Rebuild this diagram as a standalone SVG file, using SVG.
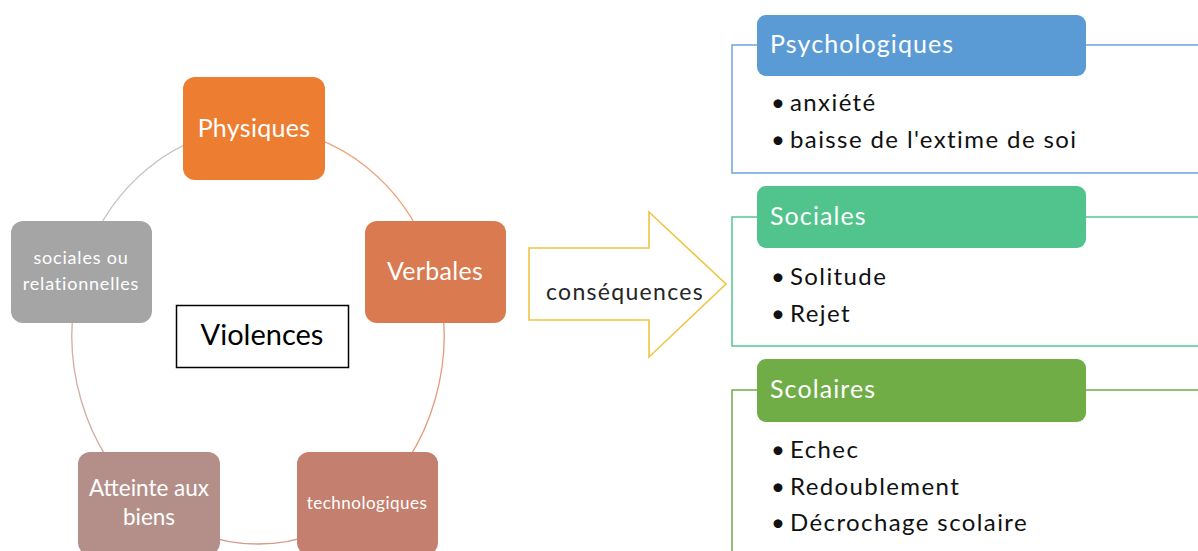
<svg xmlns="http://www.w3.org/2000/svg" width="1198" height="551" viewBox="0 0 1198 551">
<style>
  .node text { font-family: Lato, "Liberation Sans", sans-serif; fill: #ffffff; text-anchor: middle; }
  .arc { fill: none; stroke-width: 1.3; }
  .hdr { font-family: Lato, "Liberation Sans", sans-serif; fill: #ffffff; font-size: 25px; letter-spacing: 1.1px; }
  .bul { font-family: Lato, "Liberation Sans", sans-serif; fill: #111111; font-size: 24px; letter-spacing: 1.4px; }
  .dot { font-family: Lato, "Liberation Sans", sans-serif; fill: #111111; font-size: 24px; }
  .brk { fill: none; stroke-width: 1.5; }
</style>
<rect width="1198" height="551" fill="#ffffff"/>
<g id="connectors">
  <path class="arc" stroke="#F0A278" d="M258,128 A186,208 0 0 1 434.9,271.7"/>
  <path class="arc" stroke="#E39B78" d="M434.9,271.7 A186,208 0 0 1 367.3,504.3"/>
  <path class="arc" stroke="#D59A88" d="M367.3,504.3 A186,208 0 0 1 148.7,504.3"/>
  <path class="arc" stroke="#D3ACA4" d="M148.7,504.3 A186,208 0 0 1 81.1,271.7"/>
  <path class="arc" stroke="#C4C4C4" d="M81.1,271.7 A186,208 0 0 1 258,128"/>
  <path class="brk" stroke="#6FA4D8" d="M757,45 H732 V173 H1198 M1086,45 H1198"/>
  <path class="brk" stroke="#55C592" d="M757,217 H732 V346 H1198 M1086,217 H1198"/>
  <path class="brk" stroke="#70AD47" d="M757,390 H732 V551 M1086,390 H1198"/>
</g>
<g id="physiques" class="node">
  <rect x="183" y="77" width="142" height="103" rx="12" fill="#ED7D31"/>
  <text x="254" y="137" font-size="25" letter-spacing="0.3">Physiques</text>
</g>
<g id="verbales" class="node">
  <rect x="365" y="221" width="141" height="102" rx="12" fill="#D97A50"/>
  <text x="435" y="280" font-size="25" letter-spacing="0.3">Verbales</text>
</g>
<g id="technologiques" class="node">
  <rect x="297" y="452" width="141" height="103" rx="12" fill="#C47F6E"/>
  <text x="367" y="509" font-size="17" letter-spacing="0.5">technologiques</text>
</g>
<g id="atteinte" class="node">
  <rect x="78" y="452" width="142" height="103" rx="12" fill="#B48F89"/>
  <text x="149" y="496" font-size="22.5">Atteinte aux</text>
  <text x="149" y="525" font-size="22.5">biens</text>
</g>
<g id="sociales-rel" class="node">
  <rect x="11" y="221" width="141" height="102" rx="12" fill="#A5A5A5"/>
  <text x="81" y="264" font-size="18" letter-spacing="0.8">sociales ou</text>
  <text x="81" y="290" font-size="18" letter-spacing="0.8">relationnelles</text>
</g>
<g id="violences">
  <rect x="176.5" y="305.5" width="172" height="62" fill="#ffffff" stroke="#000000" stroke-width="1.5"/>
  <text x="262" y="345" font-family="Lato, 'Liberation Sans', sans-serif" font-size="29" fill="#000000" text-anchor="middle">Violences</text>
</g>
<g id="consequences">
  <path d="M529,248 H649 V212 L726,284 L649,357 V320 H529 Z" fill="#ffffff" stroke="#F0C443" stroke-width="1.6" stroke-linejoin="miter"/>
  <text x="625" y="300" font-family="Lato, 'Liberation Sans', sans-serif" font-size="23" letter-spacing="1.3" fill="#262626" text-anchor="middle">conséquences</text>
</g>
<g id="psychologiques">
  <rect x="757" y="15" width="329" height="61" rx="9" fill="#5B9BD5"/>
  <text class="hdr" x="770" y="53">Psychologiques</text>
  <text class="dot" x="771" y="111">•</text><text class="bul" x="790" y="111">anxiété</text>
  <text class="dot" x="771" y="148">•</text><text class="bul" x="790" y="148">baisse de l'extime de soi</text>
</g>
<g id="sociales">
  <rect x="757" y="186" width="329" height="62" rx="9" fill="#50C48C"/>
  <text class="hdr" x="770" y="225">Sociales</text>
  <text class="dot" x="771" y="285">•</text><text class="bul" x="790" y="285">Solitude</text>
  <text class="dot" x="771" y="322">•</text><text class="bul" x="790" y="322">Rejet</text>
</g>
<g id="scolaires">
  <rect x="757" y="359" width="329" height="63" rx="9" fill="#70AD47"/>
  <text class="hdr" x="770" y="398">Scolaires</text>
  <text class="dot" x="771" y="458">•</text><text class="bul" x="790" y="458">Echec</text>
  <text class="dot" x="771" y="495">•</text><text class="bul" x="790" y="495">Redoublement</text>
  <text class="dot" x="771" y="531">•</text><text class="bul" x="790" y="531">Décrochage scolaire</text>
</g>
</svg>
